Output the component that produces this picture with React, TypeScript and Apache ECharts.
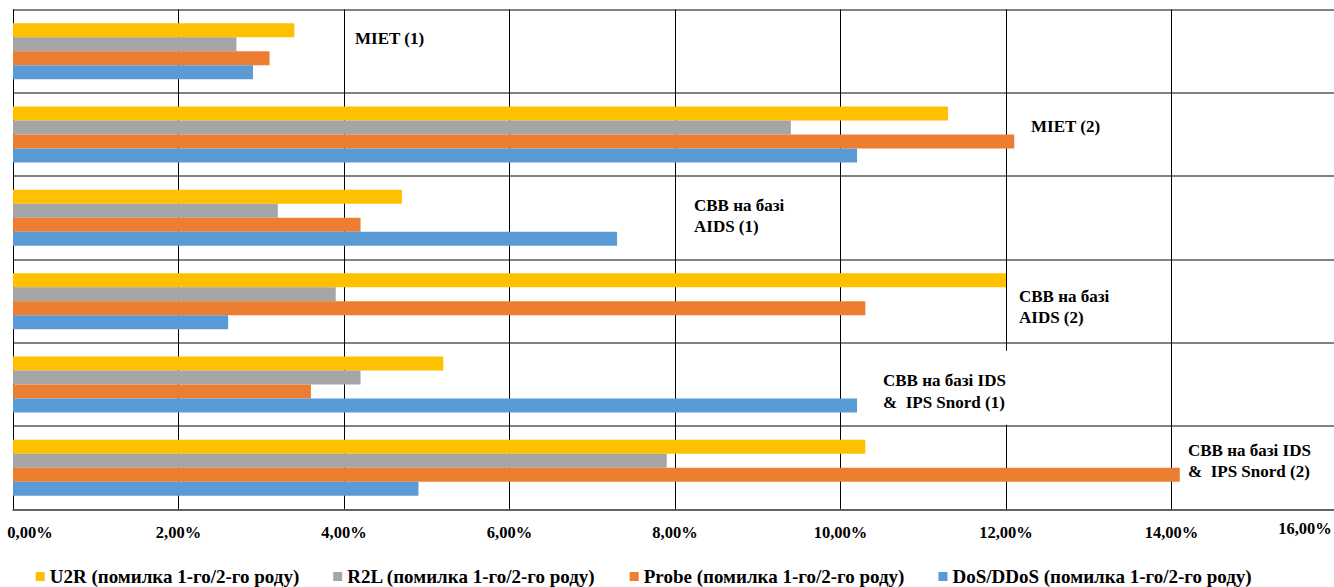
import React, { useEffect, useRef } from "react";
import * as echarts from "echarts";

const categories = [
  "MIET (1)",
  "MIET (2)",
  "СВВ на базі\nAIDS (1)",
  "СВВ на базі\nAIDS (2)",
  "СВВ на базі IDS\n&  IPS Snord (1)",
  "СВВ на базі IDS\n&  IPS Snord (2)",
];
const seriesNames = [
  "U2R (помилка 1-го/2-го роду)",
  "R2L (помилка 1-го/2-го роду)",
  "Probe (помилка 1-го/2-го роду)",
  "DoS/DDoS (помилка 1-го/2-го роду)",
];
const u2r = [3.4, 11.3, 4.7, 12.0, 5.2, 10.3];
const r2l = [2.7, 9.4, 3.2, 3.9, 4.2, 7.9];
const probe = [3.1, 12.1, 4.2, 10.3, 3.6, 14.1];
const dos = [2.9, 10.2, 7.3, 2.6, 10.2, 4.9];
const xMin = 0;
const xMax = 16;
const xStep = 2;

const colors = ["#FFC000", "#A5A5A5", "#ED7D31", "#5B9BD5"];

// annotation placement (text left x, first line centre y, padding)
const labelLayout = [
  { x: 355, y: 38, pad: [2, 2, 2, 2] },
  { x: 1031, y: 126, pad: [2, 2, 2, 2] },
  { x: 694, y: 205, pad: [2, 2, 2, 2] },
  { x: 1019, y: 296, pad: [2, 2, 2, 2] },
  { x: 883, y: 380.5, pad: [19, 6, 12, 6] },
  { x: 1188, y: 450, pad: [2, 2, 2, 2] },
];

const FONT = "'Liberation Serif', 'Times New Roman', Times, serif";

function fmt(v: number) {
  return v.toFixed(2).replace(".", ",") + "%";
}

export default function App() {
  const ref = useRef<HTMLDivElement>(null);
  useEffect(() => {
    document.body.style.margin = "0";
    document.body.style.overflow = "hidden";
    const chart = echarts.init(ref.current!, null, { renderer: "svg" });
    const seriesData = [u2r, r2l, probe, dos];
    const lineH = 21.5;
    const graphics = categories.map((c, i) => {
      const L = labelLayout[i];
      return {
        type: "text",
        z: 100,
        x: L.x - L.pad[3],
        y: L.y - lineH / 2 - L.pad[0],
        style: {
          text: c,
          font: "bold 17px " + FONT,
          fill: "#000",
          lineHeight: lineH,
          backgroundColor: "#fff",
          padding: L.pad,
          align: "left",
          verticalAlign: "top",
          textAlign: "left",
          textVerticalAlign: "top",
        },
      };
    });
    const labelStyle = {
      fontFamily: FONT,
      fontWeight: "bold",
      fontSize: 16.5,
      color: "#000",
    };
    chart.setOption({
      animation: false,
      backgroundColor: "#fff",
      grid: {
        left: 13,
        top: 9.5,
        width: 1324,
        height: 500,
        containLabel: false,
        outerBoundsMode: "none",
      },
      legend: {
        data: seriesNames,
        left: 35.7,
        top: 567,
        padding: 0,
        itemWidth: 9,
        itemHeight: 9,
        itemGap: 34,
        icon: "rect",
        textStyle: { fontFamily: FONT, fontWeight: "bold", fontSize: 19, color: "#000" },
      },
      xAxis: {
        type: "value",
        min: xMin,
        max: xMax,
        interval: xStep,
        axisLine: { show: true, lineStyle: { color: "#595959", width: 1.5 } },
        axisTick: { show: false },
        splitLine: { show: true, lineStyle: { color: "#000", width: 1 } },
        axisLabel: {
          margin: 14,
          ...labelStyle,
          formatter: (v: number) => {
            if (v === xMin) return "{first|" + fmt(v) + "}";
            if (v === xMax) return "{last|" + fmt(v) + "}";
            return "{mid|" + fmt(v) + "}";
          },
          rich: {
            mid: { ...labelStyle },
            first: { ...labelStyle, padding: [0, 0, 0, 34] },
            last: { ...labelStyle, lineHeight: 10, padding: [0, 64, 0, 0] },
          },
        },
      },
      yAxis: {
        type: "category",
        data: categories,
        inverse: true,
        axisLabel: { show: false },
        axisTick: { show: false },
        axisLine: { show: false },
        splitLine: { show: true, lineStyle: { color: "#595959", width: 1.5 } },
      },
      graphic: graphics,
      series: seriesNames.map((n, i) => ({
        name: n,
        type: "bar",
        data: seriesData[i],
        barWidth: 14,
        barGap: "0%",
        itemStyle: { color: colors[i] },
      })),
    });
    return () => chart.dispose();
  }, []);
  return <div ref={ref} style={{ width: 1334, height: 587 }} />;
}
